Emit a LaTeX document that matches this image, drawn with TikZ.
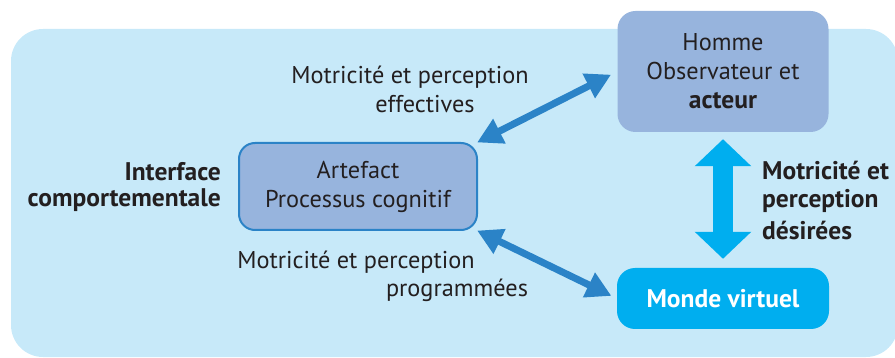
\documentclass[tikz,border=0pt]{standalone}
\usepackage{fontspec}
\setmainfont{PT Sans}
\usetikzlibrary{arrows.meta}
\definecolor{bgblue}{RGB}{199,233,249}
\definecolor{boxblue}{RGB}{151,180,221}
\definecolor{edgeblue}{RGB}{43,131,199}
\definecolor{cyanblue}{RGB}{0,174,239}
\definecolor{ink}{RGB}{35,31,32}
\newcommand{\regfont}{\fontsize{24.3}{29}\selectfont}
\newcommand{\boldfont}{\fontsize{25.5}{29}\selectfont\bfseries}
\tikzset{
  every node/.style={font=\regfont, text=ink},
  greybox/.style={rounded corners=18pt, fill=boxblue, inner sep=0pt, align=center},
  label/.style={inner sep=0pt},
  boldlabel/.style={inner sep=0pt, font=\boldfont},
  diagarrow/.style={draw=edgeblue, line width=7pt,
    {Triangle[length=25pt,width=26pt]}-{Triangle[length=25pt,width=26pt]}},
  vertarrow/.style={draw=cyanblue, line width=20pt,
    {Triangle[length=27pt,width=55pt]}-{Triangle[length=27pt,width=55pt]}}
}
\begin{document}
\begin{tikzpicture}[x=1pt,y=-1pt]
\useasboundingbox (0,0) rectangle (895,358);
% background panel
\fill[bgblue, rounded corners=32pt] (11,29) rectangle (898,357);

% boxes
\node[greybox, minimum width=211pt, minimum height=121pt] (homme) at (723,71.5)
  {Homme\\Observateur et\\{\boldfont acteur}};
\node[greybox, draw=edgeblue, line width=2pt, rounded corners=16pt,
      minimum width=238pt, minimum height=87pt] (artefact) at (358,186.5)
  {Artefact\\Processus cognitif};
\node[greybox, fill=cyanblue, text=white, font=\boldfont,
      minimum width=212pt, minimum height=61pt] (monde) at (723,298.5)
  {Monde virtuel};

% connectors
\draw[diagarrow, shorten >=7pt, shorten <=-1pt] (artefact.north east) -- (homme.west);
\draw[diagarrow, shorten >=6pt, shorten <=-1pt] (artefact.south east) -- (monde.west);
\draw[vertarrow, shorten >=9pt, shorten <=7pt] (homme.south) -- (monde.north);

% labels
\node[label] (eff1) at (410,77) {Motricité et perception};
\node[label] (eff2) at (425,104) {effectives};
\node[label] (prog1) at (356,262) {Motricité et perception};
\node[label] (prog2) at (457,290) {programmées};
\node[boldlabel, anchor=east] (int1) at (221,172) {Interface};
\node[boldlabel, anchor=east] (int2) at (221,200) {comportementale};
\node[boldlabel, anchor=west] (des1) at (762,171) {Motricité et};
\node[boldlabel, anchor=west] (des2) at (762,201) {perception};
\node[boldlabel, anchor=west] (des3) at (762,230) {désirées};
\end{tikzpicture}
\end{document}
